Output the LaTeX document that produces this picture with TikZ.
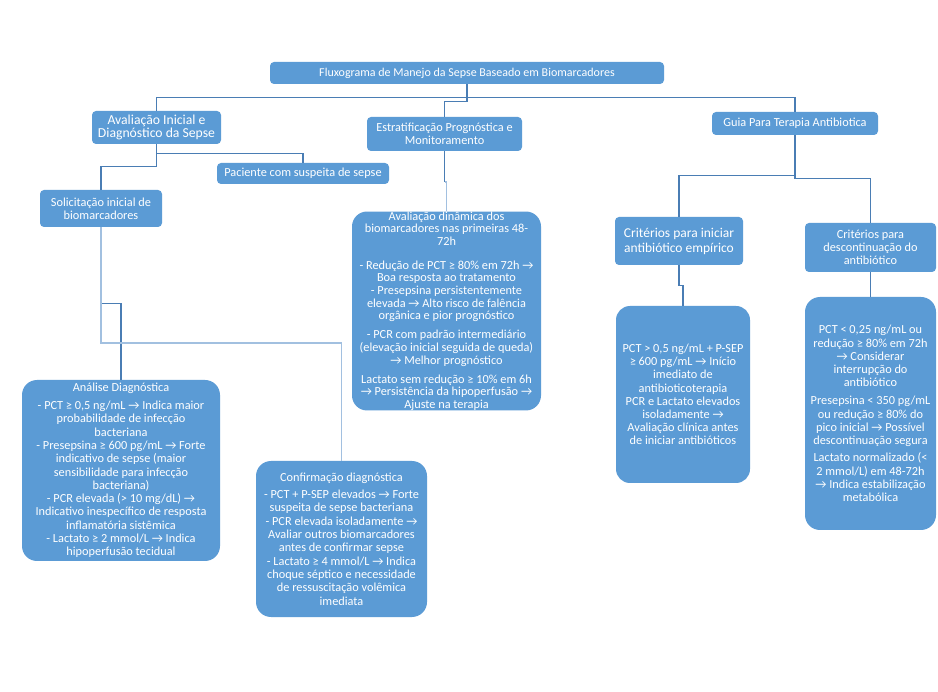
\documentclass[tikz,border=0pt]{standalone}
\usepackage{fontspec}
\setmainfont{Carlito}
\definecolor{boxblue}{HTML}{5B9BD5}
\definecolor{linedark}{HTML}{4A7DB4}
\definecolor{linelight}{HTML}{A2C0E0}
\tikzset{
  box/.style={fill=boxblue, draw=none, text=white, align=center, inner sep=0pt,
    rounded corners=4pt, font=\fontsize{12.3}{13}\selectfont},
  bigbox/.style={box, rounded corners=15pt},
  conn/.style={draw=linedark, line width=1.3pt},
  connlight/.style={draw=linelight, line width=1.6pt},
}
\begin{document}
\begin{tikzpicture}[x=1pt,y=-1pt]
\useasboundingbox[fill=white] (0,0) rectangle (938,692);
% top
\node[box, minimum width=394pt, minimum height=22pt, font=\fontsize{12}{13}\selectfont] (t) at (467,73)
  {Fluxograma de Manejo da Sepse Baseado em Biomarcadores};
% level 1
\node[box, minimum width=129pt, minimum height=33pt, font=\fontsize{13.7}{11.7}\selectfont] (ai) at (156.5,127.5)
  {Avaliação Inicial e\\Diagnóstico da Sepse};
\node[box, minimum width=155pt, minimum height=34pt] (es) at (444.5,134)
  {Estratificação Prognóstica e\\Monitoramento};
\node[box, minimum width=166pt, minimum height=23pt] (gu) at (795,123.5)
  {Guia Para Terapia Antibiotica};
% level 2
\node[box, minimum width=172pt, minimum height=21pt] (pa) at (303,173.5)
  {Paciente com suspeita de sepse};
\node[box, minimum width=122pt, minimum height=37pt, font=\fontsize{12.3}{13.3}\selectfont] (so) at (101,208.5)
  {Solicitação inicial de\\biomarcadores};
\node[bigbox, minimum width=189pt, minimum height=198pt, font=\fontsize{12.3}{12.6}\selectfont] (ad) at (446.5,311)
  {Avaliação dinâmica dos\\biomarcadores nas primeiras 48-\\72h\\[11.5pt]
   - Redução de PCT ≥ 80\% em 72h →\\Boa resposta ao tratamento\\- Presepsina persistentemente\\elevada → Alto risco de falência\\orgânica e pior prognóstico\\[6.5pt]
   - PCR com padrão intermediário\\(elevação inicial seguida de queda)\\→ Melhor prognóstico\\[6.5pt]
   Lactato sem redução ≥ 10\% em 6h\\→ Persistência da hipoperfusão →\\Ajuste na terapia};
\node[box, minimum width=128pt, minimum height=48pt, font=\fontsize{13.5}{15}\selectfont] (ci) at (679,241)
  {Critérios para iniciar\\antibiótico empírico};
\node[box, minimum width=131pt, minimum height=49pt, font=\fontsize{12.3}{13}\selectfont] (cd) at (870.5,247.5)
  {Critérios para\\descontinuação do\\antibiótico};
% level 3
\node[bigbox, minimum width=198pt, minimum height=181pt, font=\fontsize{12.3}{13.3}\selectfont] (an) at (121,470.5)
  {Análise Diagnóstica\\[4.5pt]
   - PCT ≥ 0,5 ng/mL → Indica maior\\probabilidade de infecção\\bacteriana\\
   - Presepsina ≥ 600 pg/mL → Forte\\indicativo de sepse (maior\\sensibilidade para infecção\\bacteriana)\\
   - PCR elevada (> 10 mg/dL) →\\Indicativo inespecífico de resposta\\inflamatória sistêmica\\
   - Lactato ≥ 2 mmol/L → Indica\\hipoperfusão tecidual};
\node[bigbox, minimum width=171pt, minimum height=156pt, font=\fontsize{12.3}{13.3}\selectfont] (co) at (341.5,539)
  {Confirmação diagnóstica\\[4pt]
   - PCT + P-SEP elevados → Forte\\suspeita de sepse bacteriana\\
   - PCR elevada isoladamente →\\Avaliar outros biomarcadores\\antes de confirmar sepse\\
   - Lactato ≥ 4 mmol/L → Indica\\choque séptico e necessidade\\de ressuscitação volêmica\\imediata};
\node[bigbox, minimum width=134pt, minimum height=177pt, rounded corners=14pt, font=\fontsize{12.3}{13.2}\selectfont] (pg) at (683,394.5)
  {PCT > 0,5 ng/mL + P-SEP\\≥ 600 pg/mL → Início\\imediato de\\antibioticoterapia\\
   PCR e Lactato elevados\\isoladamente →\\Avaliação clínica antes\\de iniciar antibióticos};
\node[bigbox, minimum width=131pt, minimum height=233pt, font=\fontsize{12.3}{13.2}\selectfont] (pl) at (870.5,413.5)
  {PCT < 0,25 ng/mL ou\\redução ≥ 80\% em 72h\\→ Considerar\\interrupção do\\antibiótico\\[5pt]
   Presepsina < 350 pg/mL\\ou redução ≥ 80\% do\\pico inicial → Possível\\descontinuação segura\\[4.2pt]
   Lactato normalizado (<\\2 mmol/L) em 48-72h\\→ Indica estabilização\\metabólica};
% connectors
\draw[conn] (t.south) -- ++(0,13) -| (ai.north);
\draw[conn] (t.south) -- ++(0,13) -| (gu.north);
\draw[conn] (t.south) -- ++(0,17) -| (es.north);
\draw[conn] (ai.south) -- ++(0,9) -| (pa.north);
\draw[conn] (ai.south) -- ++(0,22) -| (so.north);
\draw[conn] (so.south) -- ++(0,76) -| (an.north);
\draw[connlight] (so.south) -- ++(0,116) -| (co.north);
\draw[conn] (es.south) -- ++(0,31) coordinate (esm);
\draw[connlight] (esm) -| (ad.north);
\draw[conn] (gu.south) -- ++(0,40) -| (ci.north);
\draw[conn] (gu.south) -- ++(0,43) -| (cd.north);
\draw[conn] (ci.south) -- ++(0,20) -| (pg.north);
\draw[conn] (cd.south) -- (pl.north);
\end{tikzpicture}
\end{document}
